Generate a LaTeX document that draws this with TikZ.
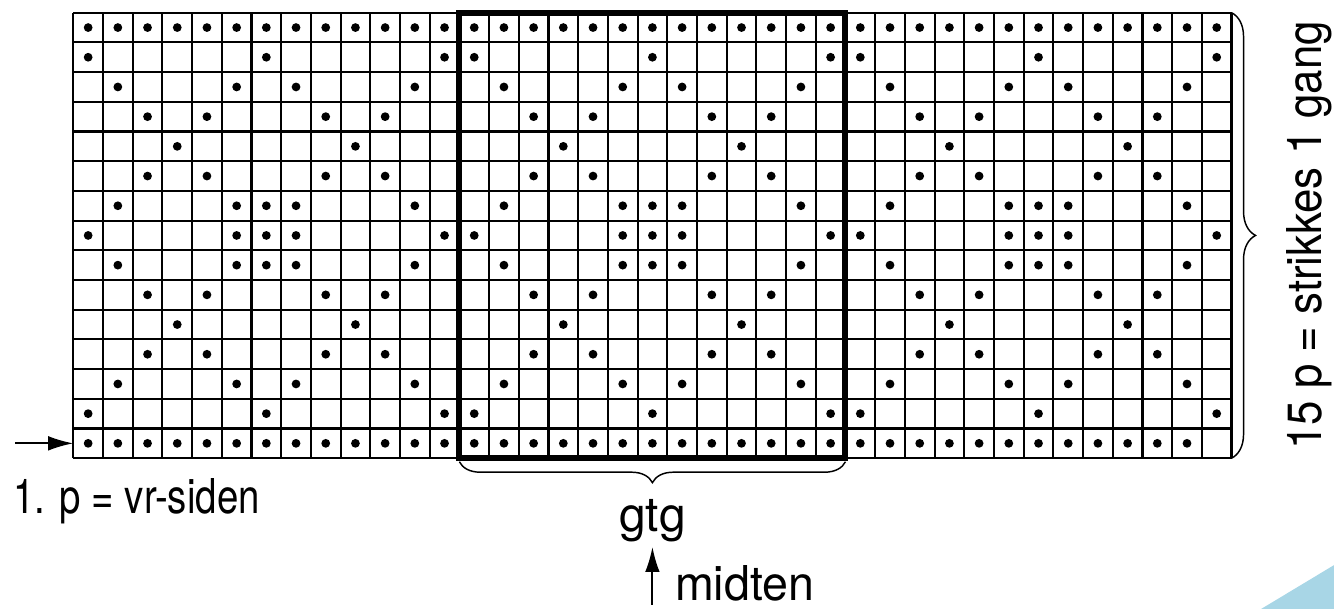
\documentclass[tikz,border=0pt]{standalone}
\usepackage{fontspec}
\setmainfont{TeX Gyre Heros}
\usepackage{graphicx}
\usetikzlibrary{arrows.meta,positioning,decorations.pathreplacing}
\definecolor{swoosh}{RGB}{168,214,230}

\begin{document}
\begin{tikzpicture}[
  x=0.5cm, y=0.5cm,
  font=\fontsize{23}{27}\selectfont,
  gridline/.style={line width=1pt, step=0.5cm},
  frame/.style={line width=2.9pt},
  stitch/.style={fill=black},
  arr/.style={-{Latex[length=12pt,width=7pt]}, line width=0.9pt},
  curly/.style={decorate, decoration={brace, amplitude=#1}, line width=0.7pt},
  lbl/.style={inner sep=0pt}
]
\useasboundingbox (-2.468,-5.074) rectangle (42.45,15.428);
% corner swoosh
\fill[swoosh] (40.0,-5.074) -- (42.45,-3.6) -- (42.45,-5.074) -- cycle;

% chart: 39 stitches x 15 rows
\draw[gridline] (0,0) grid (39,15);
\foreach \c in {1,...,39} \fill[stitch] (\c-0.5,14.5) circle (2.1pt);
\foreach \c in {1,...,38} \fill[stitch] (\c-0.5,0.5) circle (2.1pt);
\foreach \r/\cols in {2/{1,7,13},3/{2,6,8,12},4/{3,5,9,11},5/{4,10},6/{3,5,9,11},
    7/{2,6,7,8,12},8/{1,6,7,8,13},9/{2,6,7,8,12},10/{3,5,9,11},11/{4,10},
    12/{3,5,9,11},13/{2,6,8,12},14/{1,7,13}}
  \foreach \b in {0,13,26}
    \foreach \c in \cols
      \fill[stitch] (\b+\c-0.5,\r-0.5) circle (2.1pt);

% repeat frame
\coordinate (rep1) at (13,0);
\coordinate (rep2) at (26,15);
\draw[frame] (rep1) rectangle (rep2);
\draw[curly=10pt] (26,-0.12) -- (13,-0.12);
\draw[curly=11.5pt] (39,15) -- (39,0);

% labels
\node[lbl, anchor=base west] (first) at (-2.03,-1.875) {\scalebox{0.8}[1]{1. p = vr-siden}};
\node[lbl, anchor=base, inner sep=2pt] (gtg) at (19.5,-2.48) {gtg};
\node[lbl, anchor=base west] (midten) at (20.25,-4.78) {\scalebox{0.97}[1]{midten}};
\node[lbl, rotate=90, anchor=base] (rounds) at (42.04,7.5) {\scalebox{0.913}[1]{15 p = strikkes 1 gang}};

\coordinate (midpt) at (19.5,-4.94);
\draw[arr] (midpt) -- (gtg);
\coordinate (tail) at (-1.96,0.5);
\coordinate (rowone) at (0,0.5);
\draw[arr] (tail) -- (rowone);
\end{tikzpicture}
\end{document}
